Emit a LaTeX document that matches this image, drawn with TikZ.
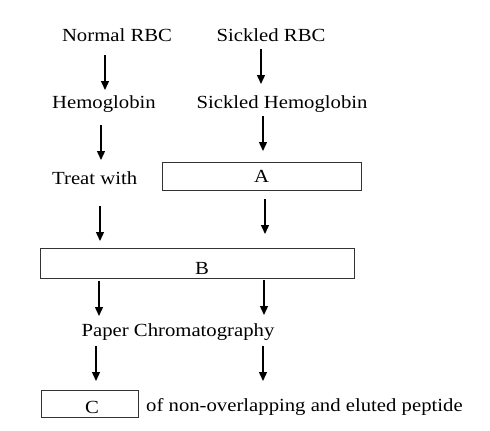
\documentclass[tikz,border=0pt]{standalone}
\usepackage{fontspec}
\setmainfont{Liberation Serif}[FakeStretch=1.12]
\usetikzlibrary{arrows.meta}
\begin{document}
\begin{tikzpicture}[x=1pt,y=-1pt,
  lbl/.style={inner sep=0pt,font=\fontsize{18.5}{22}\selectfont},
  box/.style={draw=black!80,line width=0.9pt},
  arr/.style={line width=1.4pt,-{Triangle[length=9pt,width=8pt]}}]
\useasboundingbox (0,0) rectangle (490,431);
\node[lbl] (nrbc) at (117,35) {Normal RBC};
\node[lbl] (srbc) at (271,35) {Sickled RBC};
\node[lbl] (hb) at (104,104) {Hemoglobin};
\node[lbl] (shb) at (282,104) {Sickled Hemoglobin};
\node[lbl,anchor=west] (treat) at (52,178) {Treat with};
\node[box,minimum width=199pt,minimum height=28pt,inner sep=0pt,font=\fontsize{18.5}{22}\selectfont] (A) at (261.5,176) {A};
\node[box,minimum width=314pt,minimum height=30pt,inner sep=0pt] (B) at (197,263) {};
\node[lbl] (Blbl) at (202,268) {B};
\node[lbl] (pc) at (178,332) {Paper Chromatography};
\node[box,minimum width=97pt,minimum height=27pt,inner sep=0pt] (C) at (89.5,403.5) {};
\node[lbl] (Clbl) at (92,407) {C};
\node[lbl,anchor=west] (pep) at (146,407) {of non-overlapping and eluted peptide};
% arrows
\coordinate (a1s) at (105,55); \coordinate (a1e) at (105,90);
\coordinate (b1s) at (261,49); \coordinate (b1e) at (261,84);
\coordinate (a2s) at (101,125); \coordinate (a2e) at (101,160);
\coordinate (b2s) at (263,116); \coordinate (b2e) at (263,151);
\coordinate (a3s) at (100,206); \coordinate (a3e) at (100,241);
\coordinate (b3s) at (265,199); \coordinate (b3e) at (265,234);
\coordinate (a4s) at (99,281); \coordinate (a4e) at (99,316);
\coordinate (b4s) at (264,280); \coordinate (b4e) at (264,315);
\coordinate (a5s) at (96,346); \coordinate (a5e) at (96,381);
\coordinate (b5s) at (263,346); \coordinate (b5e) at (263,381);
\foreach \p in {a1,b1,a2,b2,a3,b3,a4,b4,a5,b5} \draw[arr] (\p s) -- (\p e);
\end{tikzpicture}
\end{document}
